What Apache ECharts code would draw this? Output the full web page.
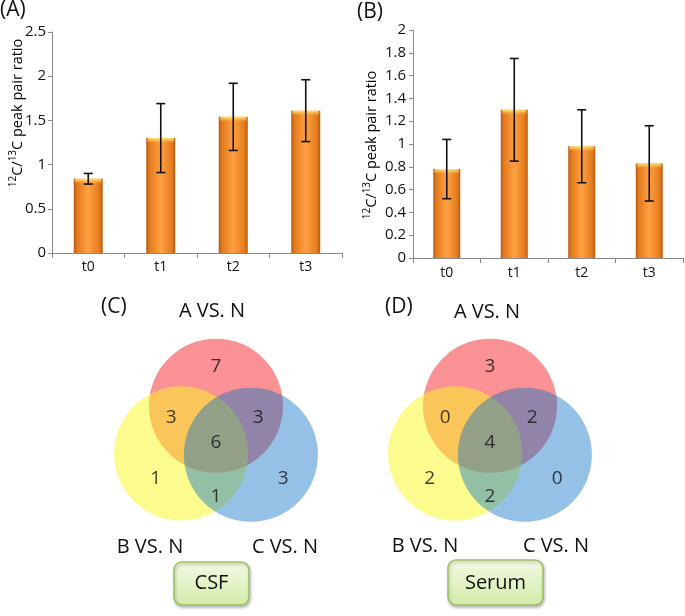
<!DOCTYPE html>
<html>
<head>
<meta charset="utf-8">
<script src="https://cdn.jsdelivr.net/npm/echarts@6/dist/echarts.min.js"></script>
<style>
html,body{margin:0;padding:0;background:#fff;}
#chart{width:685px;height:616px;}
</style>
</head>
<body>
<div id="chart"></div>
<script>
// ---- data ----
const categories = ['t0', 't1', 't2', 't3'];
const csfMean = [0.84, 1.30, 1.54, 1.61];
const csfErr = [0.06, 0.39, 0.38, 0.35];
const serumMean = [0.78, 1.30, 0.98, 0.83];
const serumErr = [0.26, 0.45, 0.32, 0.33];
const yTicksA = [0, 0.5, 1, 1.5, 2, 2.5];
const yTicksB = [0, 0.2, 0.4, 0.6, 0.8, 1, 1.2, 1.4, 1.6, 1.8, 2];
const panelLetters = ['(A)', '(B)', '(C)', '(D)'];
const setNames = ['A VS. N', 'B VS. N', 'C VS. N'];
const vennRegions = ['A', 'AB', 'AC', 'ABC', 'B', 'BC', 'C'];
const csfCounts = [7, 3, 3, 6, 1, 1, 3];
const serumCounts = [3, 0, 2, 4, 2, 2, 0];
const boxLabels = ['CSF', 'Serum'];

// ---- layout (unit venn geometry, not data) ----
const drawOrder = ['A', 'B', 'C'];
const circleLayout = {
  A: [0, 0.48], B: [-0.52, -0.23], C: [0.52, -0.25]
};
const circleColors = {
  A: 'rgba(246,56,62,0.55)',
  B: 'rgba(250,250,30,0.5)',
  C: 'rgba(10,112,196,0.43)'
};
const regionPos = {
  A: [0, 1.07], AB: [-0.67, 0.31], AC: [0.63, 0.31], ABC: [0, -0.07],
  B: [-0.9, -0.6], BC: [0, -0.88], C: [1.0, -0.6]
};

const FONT = '"Open Sans", Lato, sans-serif';
const TXT = '#111';
const AX = '#8a8a8a';

const barGrad = {
  type: 'linear', x: 0, y: 0, x2: 1, y2: 0,
  colorStops: [
    {offset: 0, color: '#B65A14'},
    {offset: 0.12, color: '#E47C1E'},
    {offset: 0.5, color: '#FFA042'},
    {offset: 0.88, color: '#E47C1E'},
    {offset: 1, color: '#B65A14'}
  ]
};

function errRender(params, api) {
  const cat = api.value(0), mean = api.value(1), err = api.value(2);
  const top = api.coord([cat, mean + err]);
  const bot = api.coord([cat, mean - err]);
  const bar = api.coord([cat, mean]);
  const bw = api.size([1, 0])[0] * 0.4;
  const cap = 4.5;
  return {
    type: 'group',
    children: [
      {type: 'rect', shape: {x: bar[0] - bw / 2 + 1, y: bar[1], width: bw - 2, height: 5, r: 2},
        style: {fill: {type: 'linear', x: 0, y: 0, x2: 0, y2: 1,
          colorStops: [{offset: 0, color: 'rgba(255,236,120,0.95)'}, {offset: 1, color: 'rgba(255,200,80,0)'}]}}},
      {type: 'line', shape: {x1: top[0], y1: top[1], x2: bot[0], y2: bot[1]}, style: {stroke: '#111', lineWidth: 1.6}},
      {type: 'line', shape: {x1: top[0] - cap, y1: top[1], x2: top[0] + cap, y2: top[1]}, style: {stroke: '#111', lineWidth: 1.6}},
      {type: 'line', shape: {x1: bot[0] - cap, y1: bot[1], x2: bot[0] + cap, y2: bot[1]}, style: {stroke: '#111', lineWidth: 1.6}}
    ]
  };
}

function circleRender(params, api) {
  const c = api.coord([api.value(0), api.value(1)]);
  const r = api.size([1, 0])[0];
  const key = drawOrder[params.dataIndex];
  return {type: 'circle', shape: {cx: c[0], cy: c[1], r: r}, style: {fill: circleColors[key]}};
}

function catAxis(gi, margin) {
  return {
    type: 'category', gridIndex: gi, data: categories,
    axisLine: {lineStyle: {color: AX, width: 1}},
    axisTick: {show: true, length: 5, lineStyle: {color: AX}},
    axisLabel: {color: TXT, fontFamily: FONT, fontSize: 14, margin: margin}
  };
}
function valAxis(gi, max, interval, margin) {
  return {
    type: 'value', gridIndex: gi, min: 0, max: max, interval: interval,
    splitLine: {show: false},
    axisLine: {show: true, lineStyle: {color: AX, width: 1}},
    axisTick: {show: true, length: 4, lineStyle: {color: AX}},
    axisLabel: {color: TXT, fontFamily: FONT, fontSize: 15, margin: margin}
  };
}
function hiddenAxis(gi) {
  return {type: 'value', gridIndex: gi, min: -1.7, max: 1.7, show: false};
}

const titleRich = {
  s: {fontSize: 10, fontFamily: FONT, color: TXT, verticalAlign: 'top', lineHeight: 19, padding: [0, 0, 6, 0]},
  n: {fontSize: 14.5, fontFamily: FONT, color: TXT, lineHeight: 19}
};
const titleText = '{s|12}{n|C/}{s|13}{n|C peak pair ratio}';

function vennLabels(counts) {
  return vennRegions.map((k, i) => ({value: [regionPos[k][0], regionPos[k][1], counts[i]]}));
}

const numLabel = {show: true, position: 'inside', formatter: p => String(p.value[2]), color: '#111', fontSize: 19, fontFamily: FONT};
const setFont = '20px ' + FONT;

const option = {
  backgroundColor: '#fff',
  animation: false,
  grid: [
    {left: 52, top: 32, width: 290, height: 221},
    {left: 413, top: 30, width: 270, height: 228},
    {left: 102, top: 324, width: 228, height: 228},
    {left: 376, top: 324, width: 228, height: 228}
  ],
  xAxis: [catAxis(0, 7), catAxis(1, 8), hiddenAxis(2), hiddenAxis(3)],
  yAxis: [valAxis(0, 2.5, 0.5, 6), valAxis(1, 2, 0.2, 7), hiddenAxis(2), hiddenAxis(3)],
  series: [
    {type: 'bar', xAxisIndex: 0, yAxisIndex: 0, data: csfMean, barWidth: '40%', itemStyle: {color: barGrad}},
    {type: 'custom', xAxisIndex: 0, yAxisIndex: 0, renderItem: errRender, z: 5,
      data: csfMean.map((m, i) => [i, m, csfErr[i]])},
    {type: 'bar', xAxisIndex: 1, yAxisIndex: 1, data: serumMean, barWidth: '40%', itemStyle: {color: barGrad}},
    {type: 'custom', xAxisIndex: 1, yAxisIndex: 1, renderItem: errRender, z: 5,
      data: serumMean.map((m, i) => [i, m, serumErr[i]])},
    {type: 'custom', xAxisIndex: 2, yAxisIndex: 2, renderItem: circleRender,
      data: drawOrder.map(k => circleLayout[k])},
    {type: 'custom', xAxisIndex: 3, yAxisIndex: 3, renderItem: circleRender,
      data: drawOrder.map(k => circleLayout[k])},
    {type: 'scatter', xAxisIndex: 2, yAxisIndex: 2, symbolSize: 0, z: 10, data: vennLabels(csfCounts), label: numLabel},
    {type: 'scatter', xAxisIndex: 3, yAxisIndex: 3, symbolSize: 0, z: 10, data: vennLabels(serumCounts), label: numLabel}
  ],
  graphic: [
    {type: 'text', x: 0, y: 0, style: {text: panelLetters[0], font: '21px ' + FONT, fill: TXT}},
    {type: 'text', x: 357, y: 2, style: {text: panelLetters[1], font: '21px ' + FONT, fill: TXT}},
    {type: 'text', x: 101, y: 297, style: {text: panelLetters[2], font: '21px ' + FONT, fill: TXT}},
    {type: 'text', x: 385, y: 297, style: {text: panelLetters[3], font: '21px ' + FONT, fill: TXT}},
    {type: 'text', x: 18, y: 113, rotation: Math.PI / 2,
      style: {text: titleText, rich: titleRich, align: 'center', verticalAlign: 'middle'}},
    {type: 'text', x: 372, y: 145, rotation: Math.PI / 2,
      style: {text: titleText, rich: titleRich, align: 'center', verticalAlign: 'middle'}},
    // set names
    {type: 'text', x: 212, y: 311, style: {text: setNames[0], font: setFont, fill: TXT, align: 'center', verticalAlign: 'middle'}},
    {type: 'text', x: 150, y: 547, style: {text: setNames[1], font: setFont, fill: TXT, align: 'center', verticalAlign: 'middle'}},
    {type: 'text', x: 285, y: 547, style: {text: setNames[2], font: setFont, fill: TXT, align: 'center', verticalAlign: 'middle'}},
    {type: 'text', x: 487, y: 312, style: {text: setNames[0], font: setFont, fill: TXT, align: 'center', verticalAlign: 'middle'}},
    {type: 'text', x: 425, y: 546, style: {text: setNames[1], font: setFont, fill: TXT, align: 'center', verticalAlign: 'middle'}},
    {type: 'text', x: 556, y: 546, style: {text: setNames[2], font: setFont, fill: TXT, align: 'center', verticalAlign: 'middle'}},
    // boxes
    {type: 'rect', shape: {x: 174, y: 562, width: 75, height: 43, r: 8},
      style: {fill: {type: 'linear', x: 0, y: 0, x2: 0, y2: 1, colorStops: [{offset: 0, color: '#F3FAE4'}, {offset: 1, color: '#D2EBA8'}]},
        stroke: '#9DC064', lineWidth: 1.5, shadowBlur: 3, shadowOffsetX: 1, shadowOffsetY: 2, shadowColor: 'rgba(0,0,0,0.25)'}},
    {type: 'text', x: 211.5, y: 583.5, style: {text: boxLabels[0], font: setFont, fill: TXT, align: 'center', verticalAlign: 'middle'}},
    {type: 'rect', shape: {x: 448, y: 560, width: 95, height: 45, r: 8},
      style: {fill: {type: 'linear', x: 0, y: 0, x2: 0, y2: 1, colorStops: [{offset: 0, color: '#F3FAE4'}, {offset: 1, color: '#D2EBA8'}]},
        stroke: '#9DC064', lineWidth: 1.5, shadowBlur: 3, shadowOffsetX: 1, shadowOffsetY: 2, shadowColor: 'rgba(0,0,0,0.25)'}},
    {type: 'text', x: 495.5, y: 583, style: {text: boxLabels[1], font: setFont, fill: TXT, align: 'center', verticalAlign: 'middle'}}
  ]
};

const chart = echarts.init(document.getElementById('chart'), null, {renderer: 'canvas'});
chart.setOption(option);
</script>
</body>
</html>
